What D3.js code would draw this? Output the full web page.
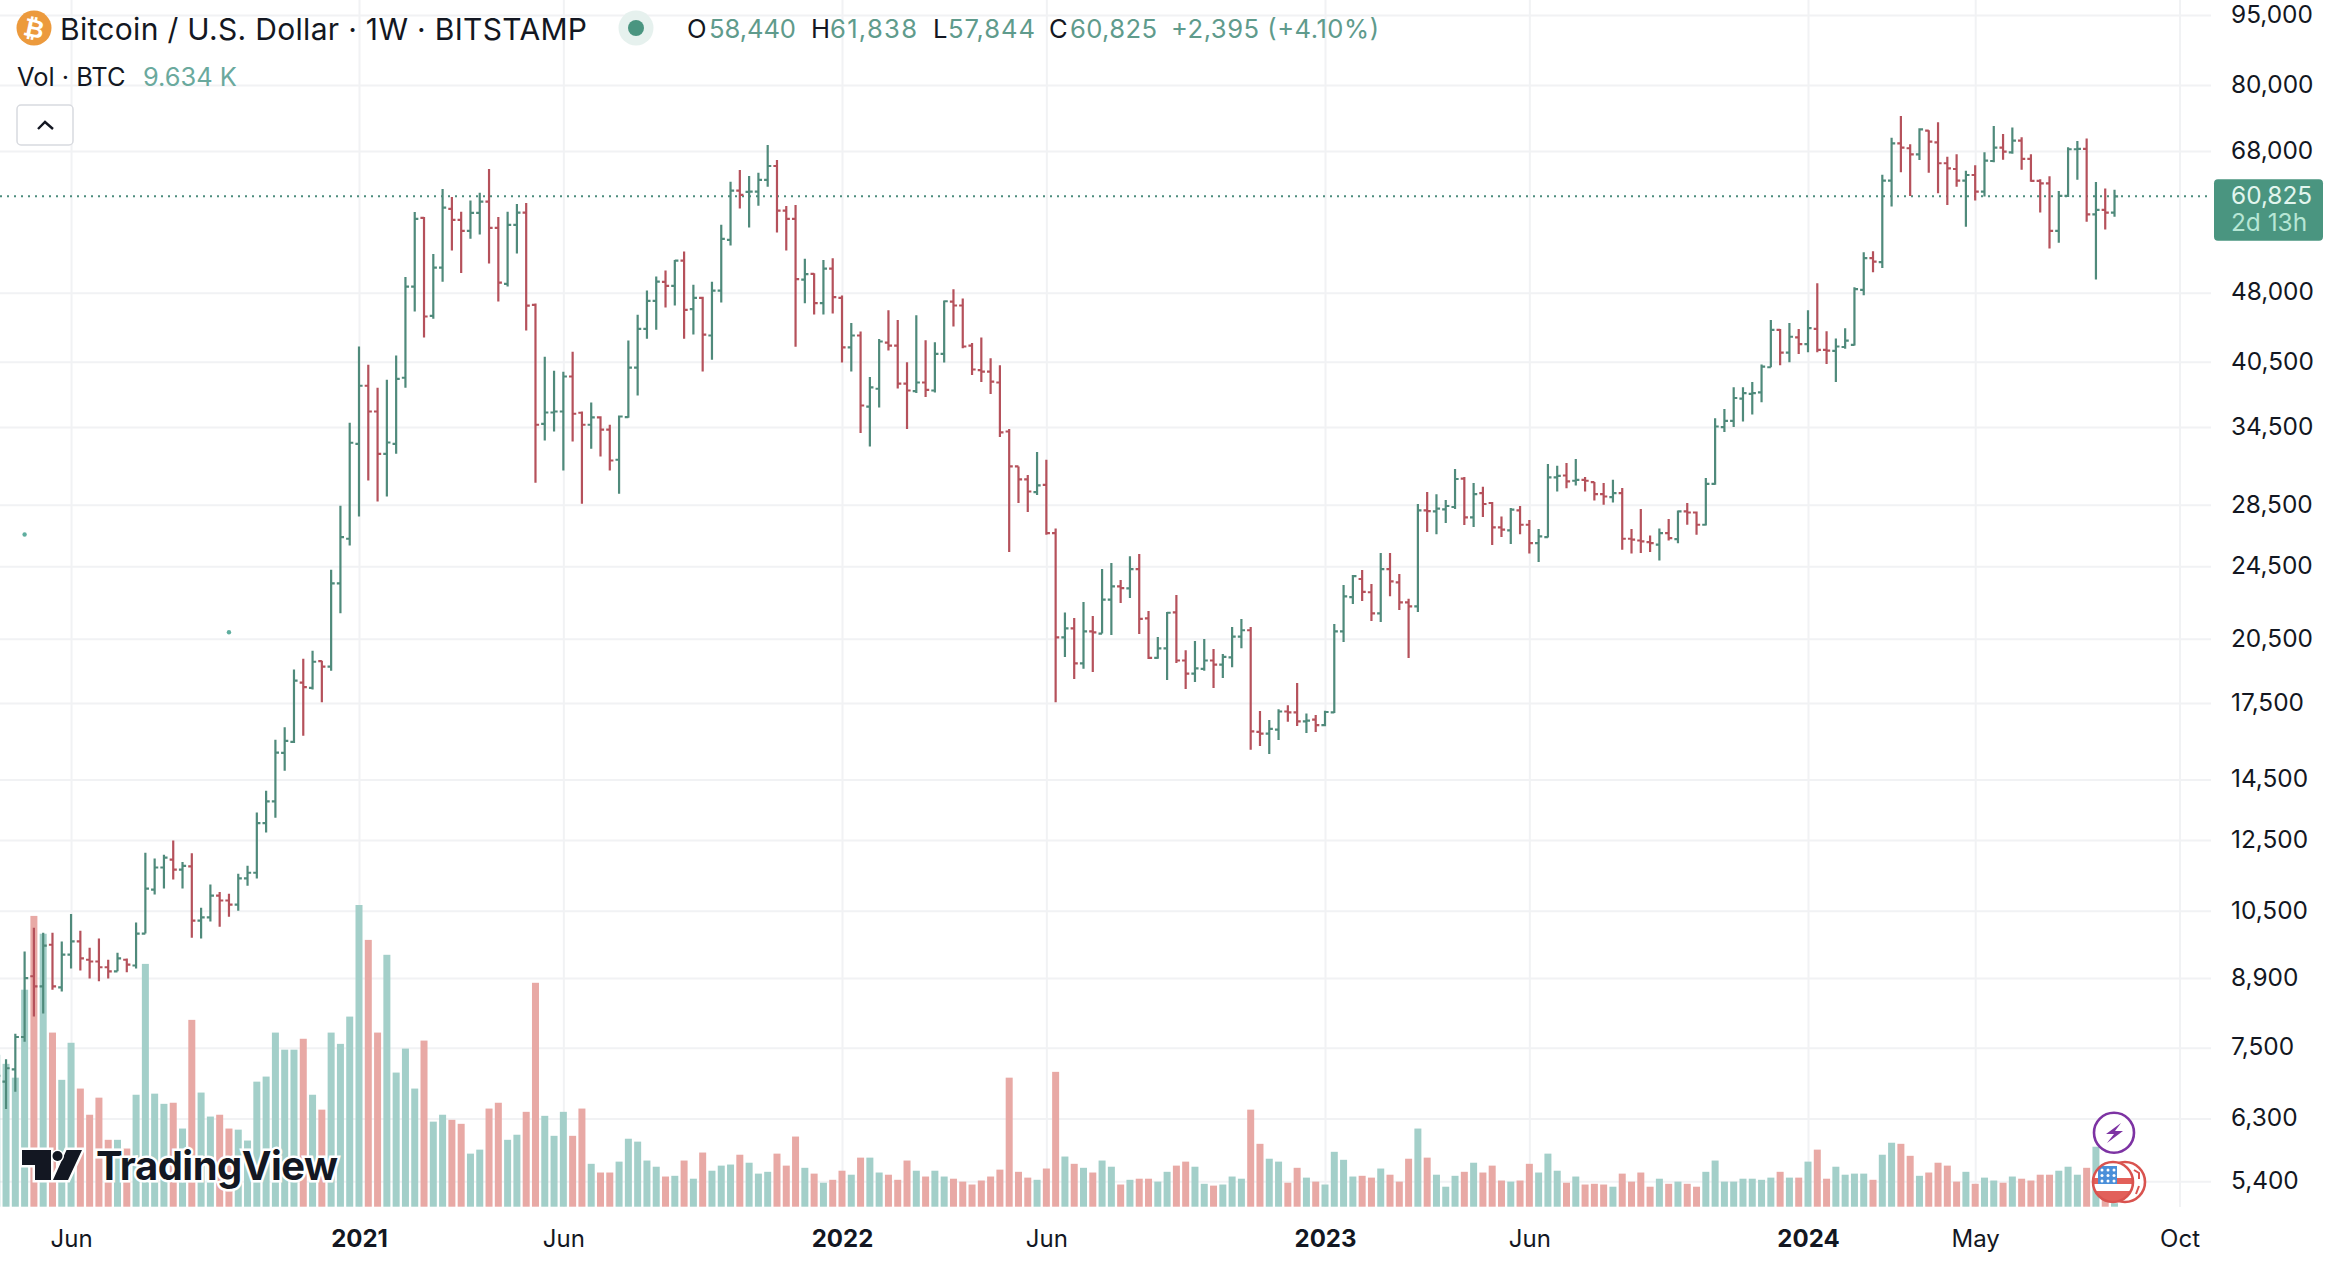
<!DOCTYPE html>
<html>
<head>
<meta charset="utf-8">
<title>Bitcoin / U.S. Dollar weekly</title>
<script src="https://cdn.jsdelivr.net/npm/d3@7"></script>
<style>
  html, body { margin: 0; padding: 0; background: #fff; }
  svg { display: block; }
  text { font-family: Inter, "Noto Sans", sans-serif; fill: #131722; }
</style>
</head>
<body>
<svg id="chart" width="2344" height="1262"></svg>
<script>
// Weekly OHLC, newest bar is the week of 2024-08-19 (values in USD)
const opens = [6800,6900,7110,7700,8940,8720,9660,8700,9430,9740,9310,9270,9140,9050,9310,9180,9930,11060,11680,11910,11620,11710,10250,10330,10900,10770,10660,11370,11530,13030,13740,15480,15910,18400,18170,19400,19140,23490,26210,33100,38180,35840,32300,33100,38940,48730,57680,45340,51050,58970,57400,55870,58400,60030,56280,49050,56710,58440,46580,34770,35750,35840,39060,35730,34690,35320,34270,31830,35350,39930,43920,47040,49290,48800,51940,46090,47390,43200,48250,54650,61690,61490,61540,63330,65540,58720,57540,49570,50260,46780,50930,47390,41950,43200,36280,37900,42460,42150,38390,37680,38490,37740,41300,46960,46510,42150,39680,39540,38490,34120,31310,30330,29390,29930,26580,20570,21030,19290,20870,20760,22570,23320,23200,24330,21550,19560,20020,21870,19430,18810,19030,19430,19230,19580,20610,20930,16300,16230,16390,17140,17100,16730,16800,16580,17100,20870,22710,23740,22980,21820,24330,23540,22420,22200,28100,28030,28170,28340,30380,27620,29320,28620,26950,26750,28100,27130,25930,26320,30480,30620,30230,30300,30130,29250,29030,29320,26210,26100,26000,25830,26580,26190,28030,27960,27130,30000,34490,35030,36990,37430,37560,39960,43810,41420,43000,42290,43920,41700,41600,42000,42220,48330,52250,51740,63220,69300,68460,67450,71480,69470,65980,65060,63220,64100,61540,66350,68560,67780,69740,66680,63170,62810,55870,60890,68290,68340,58200,58830,58440];
const highs = [7200,7290,7760,9500,10070,9950,9950,9740,10420,10000,9590,9810,9310,9470,9340,10200,12110,11940,12050,12480,11840,12100,10580,11200,11000,10950,11500,11730,13370,14110,15990,16490,19000,19520,19900,19420,24290,28430,34860,42040,40200,37990,38750,41120,49900,58540,57820,52800,61950,60740,58580,60190,61380,65060,57820,58580,59700,59840,46730,41000,39610,39510,41500,35840,36640,35420,34690,35490,42670,45450,48250,49950,50680,52030,53100,48950,47510,49320,56710,63060,64900,63950,64470,69010,66510,59410,59550,52160,50350,52030,52240,47660,44540,43630,39010,42820,45980,44870,40460,45410,42710,42500,47080,48410,47310,42400,42990,40860,40150,34320,31310,30660,32440,31830,26880,21870,21570,22440,21680,24330,24690,23680,25100,25250,21940,20590,21890,22830,19930,20380,20490,19990,19740,21100,21520,21100,17160,16790,17240,17410,18390,17060,16990,17170,21260,23390,23970,24270,23450,25310,25310,24030,22610,28550,29400,29250,28830,31110,30510,30060,29790,28690,27690,28270,28410,27450,26840,31500,31360,31570,31880,30510,30130,30060,30300,29690,26840,28200,26420,26880,27510,28100,28620,28030,30430,35260,36050,38040,38040,38530,40220,44870,43890,44540,43890,45980,49130,43660,42880,43990,48650,53020,53150,64130,70260,74110,69130,71900,71550,72970,67060,67450,64790,65650,67780,72320,70900,72060,70330,67450,63440,63890,61640,68620,69690,70140,63010,62020,61838];
const lows = [6500,6450,6730,7610,8100,8160,8650,8610,9110,9070,8890,8830,8890,9050,9030,9110,9930,10930,11090,11340,11090,9830,9810,10230,10100,10350,10500,11170,11370,12730,13200,14820,15860,16150,18090,17540,18950,21820,25780,27690,30250,28730,29080,32300,38000,45820,42990,45010,49320,53230,50390,54820,55370,51560,46960,48730,52840,43730,30080,33370,34120,31000,33290,28570,32700,32090,31000,29270,35290,37270,42850,43810,46280,46500,42850,43300,39540,40690,46840,53890,59020,56330,59450,62290,55640,53230,42020,46780,45490,45490,45600,40420,39540,33990,32880,36190,41630,37930,34320,37500,37130,37550,40420,44170,41880,39200,38530,37410,33660,25370,28620,27990,29180,26470,17540,19600,18570,19040,18890,20760,20690,22380,22660,20740,19500,19520,18520,19310,18120,18430,18950,18160,18610,19110,20030,15600,15750,15440,15980,16710,16540,16260,16300,16530,17080,20340,22330,22490,21410,21360,22750,22000,19550,21890,26650,26510,27250,28200,27110,26980,27650,25810,26320,25870,26510,25280,24750,26290,29440,29680,29880,29440,28800,28500,28660,25510,25270,25310,25370,24850,26100,25930,27130,26470,27080,29930,34070,34490,34970,35570,36670,39960,40150,40460,41270,41470,41470,40270,38530,41810,42150,47710,50480,51000,59310,64530,60890,66510,64470,61290,59550,62290,56460,60190,60790,66140,66560,67560,64950,63060,58440,53490,54280,60740,63370,57160,49570,56050,57844];
const closes = [7000,7130,7700,8900,8720,9640,8720,9430,9740,9340,9270,9140,9050,9340,9200,9930,11090,11680,11970,11620,11730,10250,10330,10900,10770,10660,11370,11530,13030,13740,15490,15950,18490,18200,19370,19140,23490,26310,33190,38180,35840,32300,33210,38840,48730,57540,45270,51050,59160,57400,55870,58400,60030,56280,49200,56710,58440,46500,34690,35750,35840,39060,35640,34690,35320,34270,31770,35400,39930,43920,47040,49320,48800,51940,46010,47390,43300,48250,54790,61690,61040,61540,63330,65540,58720,57540,49620,50230,46780,50930,47470,41950,43200,36370,38020,42570,42150,38390,37740,38490,37800,41300,47000,46510,42050,39740,39540,38580,34040,31310,30330,29440,29880,26580,20570,21030,19290,20870,20820,22570,23320,23220,24330,21520,19560,20020,21850,19430,18810,19060,19430,19230,19600,20610,20930,16320,16230,16420,17140,17100,16730,16760,16580,17120,20870,22750,23910,23000,21820,24330,23600,22420,22200,28100,28060,28220,28410,30360,27620,29250,28550,26950,26800,28150,27130,25930,26360,30480,30600,30180,30300,30230,29250,29080,29320,26210,26150,26040,25930,26580,26250,28030,27960,27130,30000,34540,35030,37050,37500,37500,40020,43810,41420,43070,42290,43990,41700,41630,42050,42670,48410,52250,51810,63220,69300,68560,67450,71720,69570,65980,65170,63220,64100,61540,66400,68560,67880,69740,66680,63170,62810,55870,60890,68290,68340,58200,58830,58430,60825];
// Weekly traded volume, thousands of BTC
const volumes = [418,393,355,597,800,751,479,349,451,325,253,300,184,184,160,308,668,311,283,286,215,514,314,248,253,215,212,182,344,358,479,432,432,462,308,267,479,448,523,830,734,479,693,369,435,325,457,234,253,239,228,146,157,270,286,184,198,261,616,250,195,261,195,270,118,94,94,124,187,179,127,110,83,85,127,77,149,99,113,116,143,121,91,96,146,113,193,107,91,66,74,99,88,135,135,94,88,74,127,99,83,99,83,77,69,61,72,83,102,355,96,80,74,105,371,138,118,107,94,127,110,61,74,77,77,69,96,113,124,110,63,58,61,83,77,267,173,132,124,66,107,80,69,61,151,129,83,85,80,105,88,69,132,215,135,88,55,85,96,121,94,113,72,69,72,118,94,146,99,66,83,61,63,61,55,91,69,94,55,77,63,69,63,55,96,127,69,69,77,77,74,80,96,80,80,124,157,77,110,88,91,91,74,143,176,173,140,85,94,121,113,69,96,63,80,72,66,83,77,72,88,88,99,110,88,107,165,33,9.634];

// Axis ticks
const priceTicks = [95000,80000,68000,48000,40500,34500,28500,24500,20500,17500,14500,12500,10500,8900,7500,6300,5400];
const timeTicks = ["2020-06-01","2021-01-04","2021-06-07","2022-01-03","2022-06-06","2023-01-02","2023-06-05","2024-01-01","2024-05-06","2024-10-07"];
const timeLabels = ["Jun","2021","Jun","2022","Jun","2023","Jun","2024","May","Oct"];
const yearLabels = ["2021","2022","2023","2024"];

// Last quote shown in the header and on the price tag
const lastPrice = 60825;
const countdown = "2d 13h";
const quoteParts = [["O","58,440"],["H","61,838"],["L","57,844"],["C","60,825"]];
const quoteChange = "+2,395 (+4.10%)";
const volumeLabel = "9.634 K";

// Two stray study dots on the chart
const dotDates = ["2020-04-27","2020-09-28"];
const dotPrices = [26490,20830];

const GREEN = "#4f8a7b", RED = "#b5515b";
const VOL_GREEN = "#a3cfc9", VOL_RED = "#e8a9a5";
const GRID = "#f1f2f4", TAG = "#4a9580";

const svg = d3.select("#chart");
const parse = d3.utcParse("%Y-%m-%d");

const lastWeek = parse("2024-08-19");
const weeks = opens.map((_, i) => d3.utcWeek.offset(lastWeek, i - opens.length + 1));

const x = d3.scaleUtc()
  .domain([parse("2021-01-04"), parse("2024-01-01")])
  .range([359, 1808]);
const y = d3.scaleLog()
  .domain([68000, 5400])
  .range([151, 1181.3]);
const yVol = d3.scaleLinear()
  .domain([0, 830])
  .range([1206.7, 905]);

const plotRight = 2211, plotBottom = 1207;

// Grid, drawn through the axis generators
svg.append("g").attr("class", "grid-y")
  .call(d3.axisRight(y).tickValues(priceTicks).tickSize(plotRight).tickFormat(""))
  .call(g => g.select(".domain").remove())
  .call(g => g.selectAll("line").attr("stroke", GRID).attr("stroke-width", 2));
svg.append("g").attr("class", "grid-x").attr("transform", `translate(0,${plotBottom})`)
  .call(d3.axisTop(x).tickValues(timeTicks.map(parse)).tickSize(plotBottom).tickFormat(""))
  .call(g => g.select(".domain").remove())
  .call(g => g.selectAll("line").attr("stroke", GRID).attr("stroke-width", 2));

// Volume histogram
svg.append("g").attr("class", "volume")
  .selectAll("rect").data(weeks).join("rect")
  .attr("x", d => x(d) - 3.5)
  .attr("width", 7)
  .attr("y", (d, i) => yVol(volumes[i]))
  .attr("height", (d, i) => yVol(0) - yVol(volumes[i]))
  .attr("fill", (d, i) => closes[i] >= opens[i] ? VOL_GREEN : VOL_RED);

// Last price line
svg.append("line")
  .attr("x1", 0).attr("x2", plotRight)
  .attr("y1", y(lastPrice)).attr("y2", y(lastPrice))
  .attr("stroke", "#4c8c7d").attr("stroke-width", 2)
  .attr("stroke-dasharray", "2 5");

// OHLC bars
svg.append("g").attr("class", "ohlc")
  .selectAll("path").data(weeks).join("path")
  .attr("fill", "none")
  .attr("stroke-width", 2.2)
  .attr("stroke", (d, i) => closes[i] >= opens[i] ? GREEN : RED)
  .attr("d", (d, i) => {
    const cx = x(d);
    return `M${cx},${y(highs[i])}V${y(lows[i])}` +
           `M${cx - 3.6},${y(opens[i])}H${cx}` +
           `M${cx},${y(closes[i])}H${cx + 3.6}`;
  });

// Stray dots
svg.append("g").selectAll("circle").data(dotDates).join("circle")
  .attr("cx", d => x(parse(d)))
  .attr("cy", (d, i) => y(dotPrices[i]))
  .attr("r", 2.2)
  .attr("fill", "#5fae9f");

// Price axis
const yAxis = svg.append("g").attr("class", "axis-y")
  .attr("transform", "translate(2231,-0.5)")
  .call(d3.axisRight(y).tickValues(priceTicks).tickSize(0).tickPadding(0).tickFormat(d3.format(",")));
yAxis.select(".domain").remove();
yAxis.selectAll("text").attr("font-size", 24.4).style("font-family", "Inter, sans-serif").attr("fill", "#131722");

// Time axis
const xAxis = svg.append("g").attr("class", "axis-x")
  .attr("transform", "translate(0,1229.5)")
  .call(d3.axisBottom(x).tickValues(timeTicks.map(parse)).tickSize(0).tickPadding(0)
    .tickFormat((d, i) => timeLabels[i]));
xAxis.select(".domain").remove();
xAxis.selectAll("text")
  .attr("font-size", 24)
  .attr("font-weight", (d, i) => yearLabels.includes(timeLabels[i]) ? 700 : 400)
  .style("font-family", "Inter, sans-serif")
  .attr("fill", "#131722");

// Last price tag
const tagTop = 179.3, tagLeft = 2214;
svg.append("rect").attr("x", tagLeft).attr("y", tagTop).attr("width", 109).attr("height", 61.4).attr("rx", 4).attr("fill", TAG);
svg.append("text").attr("x", 2231).attr("y", 204).attr("font-size", 24.4).style("fill", "#e2f5ee")
  .text(d3.format(",")(lastPrice));
svg.append("text").attr("x", 2231).attr("y", 231).attr("font-size", 24.4).style("fill", "#b6e6d5")
  .text(countdown);

// Header: symbol badge and title
svg.append("circle").attr("cx", 34).attr("cy", 28).attr("r", 17.5).attr("fill", "#ec9a3d");
svg.append("text").attr("x", 34).attr("y", 37).attr("text-anchor", "middle")
  .attr("font-size", 25).attr("font-weight", 700)
  .attr("transform", "rotate(12 34 28)")
  .style("fill", "#fff").style("font-family", "DejaVu Sans, sans-serif").text("₿");
svg.append("text").attr("x", 60).attr("y", 39.5).attr("font-size", 30).attr("textLength", 527).text("Bitcoin / U.S. Dollar · 1W · BITSTAMP");

// Market status dot
svg.append("circle").attr("cx", 636).attr("cy", 28).attr("r", 17.5).attr("fill", "#e6f1ee");
svg.append("circle").attr("cx", 636).attr("cy", 28).attr("r", 8).attr("fill", "#4a9580");

// Open / high / low / close readout
const quoteX = [[687, 709], [811, 830], [933, 948], [1049, 1070]];
const quoteGreen = "#5f9b8c";
quoteParts.forEach(([letter, value], i) => {
  svg.append("text").attr("x", quoteX[i][0]).attr("y", 37.5).attr("font-size", 25.6).text(letter);
  svg.append("text").attr("x", quoteX[i][1]).attr("y", 37.5).attr("font-size", 25.6).attr("textLength", 87).style("fill", quoteGreen).text(value);
});
svg.append("text").attr("x", 1171).attr("y", 37.5).attr("font-size", 25.6).attr("textLength", 208).style("fill", quoteGreen).text(quoteChange);

// Volume legend
svg.append("text").attr("x", 17).attr("y", 85.5).attr("font-size", 25.4).text("Vol · BTC");
svg.append("text").attr("x", 143).attr("y", 85.5).attr("font-size", 25.4).style("fill", "#6aa99d").text(volumeLabel);

// Collapse button
svg.append("rect").attr("x", 17).attr("y", 105).attr("width", 56).attr("height", 40).attr("rx", 4)
  .attr("fill", "#fff").attr("stroke", "#d8dadf").attr("stroke-width", 1.5);
svg.append("path").attr("d", "M38,129L45,122L53,129").attr("fill", "none").attr("stroke", "#131722").attr("stroke-width", 2.4);

// Logo
const logo = svg.append("g").attr("class", "logo");
const logoShapes = "M22,1150H51V1180H35V1165H22Z M66.5,1150H82L68,1180H53Z";
logo.append("path").attr("d", logoShapes).attr("fill", "#131722").attr("stroke", "#fff").attr("stroke-width", 5).attr("paint-order", "stroke");
logo.append("circle").attr("cx", 57.5).attr("cy", 1156).attr("r", 5).attr("fill", "#131722").attr("stroke", "#fff").attr("stroke-width", 3).attr("paint-order", "stroke");
logo.append("text").attr("x", 96).attr("y", 1180).attr("font-size", 40).attr("font-weight", 700)
  .attr("stroke", "#fff").attr("stroke-width", 5).attr("paint-order", "stroke").attr("textLength", 242)
  .style("font-family", "Inter, sans-serif").text("TradingView");

// Earnings-style event markers: lightning badge and US flag badge
const bx = 2114;
svg.append("circle").attr("cx", bx).attr("cy", 1132.7).attr("r", 20).attr("fill", "#fff").attr("stroke", "#7d33a3").attr("stroke-width", 2.6);
svg.append("path").attr("d", `M${bx + 7},${1123}L${bx - 8},${1134}H${bx}L${bx - 7},${1143}L${bx + 9},${1131}H${bx + 1}Z`).attr("fill", "#7d33a3");

svg.append("circle").attr("cx", 2125).attr("cy", 1182).attr("r", 20).attr("fill", "#fff").attr("stroke", "#d9534f").attr("stroke-width", 2.6);
svg.append("path").attr("d", "M2134,1170l5,3l0,6M2139,1186l-3,8").attr("fill", "none").attr("stroke", "#d9534f").attr("stroke-width", 2);
const defs = svg.append("defs");
defs.append("clipPath").attr("id", "flagClip").append("circle").attr("cx", 2113).attr("cy", 1182).attr("r", 20);
const flag = svg.append("g").attr("clip-path", "url(#flagClip)");
flag.append("rect").attr("x", 2093).attr("y", 1162).attr("width", 40).attr("height", 40).attr("fill", "#fff");
[1178, 1191].forEach(sy => flag.append("rect").attr("x", 2093).attr("y", sy).attr("width", 40).attr("height", 6).attr("fill", "#e2605a"));
flag.append("rect").attr("x", 2095).attr("y", 1196).attr("width", 40).attr("height", 8).attr("fill", "#e2605a");
flag.append("rect").attr("x", 2098).attr("y", 1166).attr("width", 19).attr("height", 18).attr("fill", "#4a8fd9");
d3.range(3).forEach(r => d3.range(3).forEach(c =>
  flag.append("circle").attr("cx", 2102 + c * 6).attr("cy", 1170 + r * 5.5).attr("r", 1.5).attr("fill", "#fff")));
svg.append("circle").attr("cx", 2113).attr("cy", 1182).attr("r", 20).attr("fill", "none").attr("stroke", "#d9534f").attr("stroke-width", 2.6);

if (new Set([opens.length, highs.length, lows.length, closes.length, volumes.length]).size !== 1) {
  console.error("series length mismatch", opens.length, highs.length, lows.length, closes.length, volumes.length);
}
</script>
</body>
</html>
